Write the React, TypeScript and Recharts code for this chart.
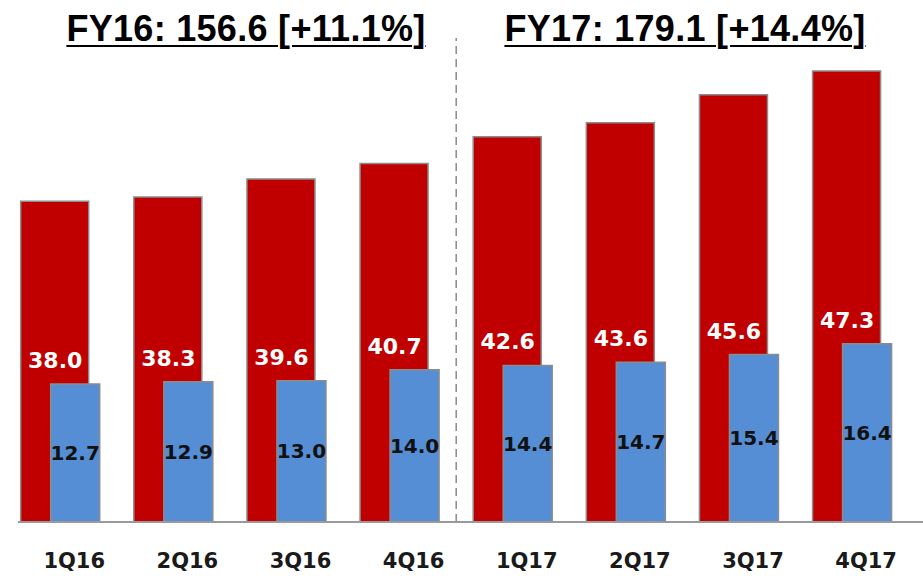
import { BarChart, Bar, XAxis, YAxis, LabelList, ReferenceLine } from "recharts";

const quarters = ["1Q16", "2Q16", "3Q16", "4Q16", "1Q17", "2Q17", "3Q17", "4Q17"];
const totalValues = [38.0, 38.3, 39.6, 40.7, 42.6, 43.6, 45.6, 47.3];
const segmentValues = [12.7, 12.9, 13.0, 14.0, 14.4, 14.7, 15.4, 16.4];
const yearTitles = ["FY16: 156.6 [+11.1%]", "FY17: 179.1 [+14.4%]"];

const data = quarters.map((q, i) => ({
  quarter: q,
  total: totalValues[i],
  segment: segmentValues[i],
}));

const RED = "#C00000";
const BLUE = "#558ED5";
const OUTLINE = "#8c8c8c";
const NUM_FONT = "'DejaVu Sans', Verdana, sans-serif";

function QuarterTick({ x, y, payload }: any) {
  return (
    <text
      x={x + 14}
      y={y}
      dy="0.71em"
      textAnchor="middle"
      fill="#1a1a1a"
      fontFamily={NUM_FONT}
      fontWeight="bold"
      fontSize={21}
    >
      {payload.value}
    </text>
  );
}

const titleStyle = {
  position: "absolute" as const,
  top: 11,
  width: 460,
  textAlign: "center" as const,
  fontFamily: "'Liberation Sans', Arial, sans-serif",
  fontWeight: "bold" as const,
  fontSize: 36,
  lineHeight: "36px",
  letterSpacing: 0.3,
  color: "#000",
  textDecoration: "underline",
  textDecorationThickness: 2,
  textUnderlineOffset: 4,
};

export default function App() {
  return (
    <div style={{ position: "absolute", left: 0, top: 0, width: 923, height: 585, background: "#fff" }}>
      <div style={{ ...titleStyle, left: 16 }}>{yearTitles[0]}</div>
      <div style={{ ...titleStyle, left: 455 }}>{yearTitles[1]}</div>
      <BarChart
        width={923}
        height={585}
        data={data}
        margin={{ top: 38, right: 0, left: 18, bottom: 0 }}
        barGap={-38}
      >
        <XAxis
          dataKey="quarter"
          height={63}
          padding={{ left: -14.3, right: 14.3 }}
          axisLine={{ stroke: "#9a9a9a", strokeWidth: 2 }}
          tickLine={false}
          tickSize={0}
          tickMargin={31}
          tick={<QuarterTick />}
          interval={0}
        />
        <YAxis yAxisId="total" hide domain={[15.1, 49.66]} allowDataOverflow />
        <YAxis yAxisId="segment" hide domain={[0, 44.53]} allowDataOverflow />
        <ReferenceLine
          yAxisId="segment"
          x="4Q16"
          position="end"
          stroke="#8a8a8a"
          strokeWidth={1.5}
          strokeDasharray="8 5"
        />
        <Bar
          yAxisId="total"
          dataKey="total"
          fill={RED}
          stroke={OUTLINE}
          strokeWidth={1.5}
          barSize={68}
          isAnimationActive={false}
        />
        <Bar
          yAxisId="segment"
          dataKey="segment"
          fill={BLUE}
          stroke={OUTLINE}
          strokeWidth={1.5}
          barSize={49}
          isAnimationActive={false}
        >
          <LabelList
            dataKey="segment"
            position="center"
            fill="#111"
            fontFamily={NUM_FONT}
            fontWeight="bold"
            fontSize={20}
            formatter={(v: any) => Number(v).toFixed(1)}
          />
          <LabelList
            dataKey="total"
            position="top"
            offset={16}
            dx={-20}
            fill="#fff"
            fontFamily={NUM_FONT}
            fontWeight="bold"
            fontSize={22}
            formatter={(v: any) => Number(v).toFixed(1)}
          />
        </Bar>
      </BarChart>
    </div>
  );
}
